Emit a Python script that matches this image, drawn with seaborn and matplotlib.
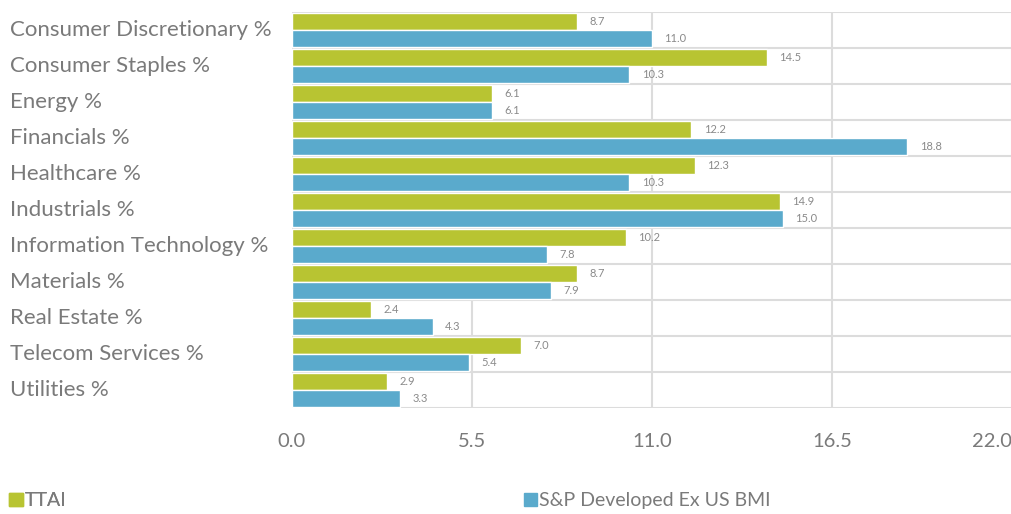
import numpy as np
import pandas as pd
import seaborn as sns
import matplotlib.pyplot as plt
from matplotlib.patches import Patch

SECTORS = ["Consumer Discretionary %", "Consumer Staples %", "Energy %", "Financials %",
           "Healthcare %", "Industrials %", "Information Technology %", "Materials %",
           "Real Estate %", "Telecom Services %", "Utilities %"]
TTAI = [8.7, 14.5, 6.1, 12.2, 12.3, 14.9, 10.2, 8.7, 2.4, 7.0, 2.9]
SP_DEV = [11.0, 10.3, 6.1, 18.8, 10.3, 15.0, 7.8, 7.9, 4.3, 5.4, 3.3]
SERIES = ["TTAI", "S&P Developed Ex US BMI"]
X_TICKS = [0.0, 5.5, 11.0, 16.5, 22.0]

GREEN = "#b8c432"
BLUE = "#5aaacc"
GRID = "#dcdcdc"
TEXT = "#7a7a7a"

df = pd.DataFrame({
    "sector": SECTORS * 2,
    "value": TTAI + SP_DEV,
    "series": [SERIES[0]] * len(SECTORS) + [SERIES[1]] * len(SECTORS),
})

sns.set_style("white")
plt.rcParams['font.family'] = ['Lato', 'DejaVu Sans']

fig = plt.figure(figsize=(10.12, 5.14), dpi=100)
ax = fig.add_axes([292 / 1012, 1 - 408 / 514, 1 - 292 / 1012, 396 / 514])

sns.barplot(data=df, y="sector", x="value", hue="series", orient="h",
            palette=[GREEN, BLUE], saturation=1, width=0.92, edgecolor="white",
            linewidth=1, legend=False, ax=ax)

for cont in ax.containers:
    ax.bar_label(cont, fmt="%.1f", padding=9, fontsize=8, color="#8a8a8a")

ax.set_xlim(0, 22)
ax.set_ylim(len(SECTORS) - 0.5, -0.5)
ax.set_xticks(X_TICKS)
ax.set_xticklabels([f"{t:.1f}" for t in X_TICKS])
ax.set_xlabel("")
ax.set_ylabel("")

# boundaries between sectors as minor ticks + grid
ax.set_yticks(np.arange(-0.5, len(SECTORS), 1.0), minor=True)
ax.yaxis.grid(True, which="minor", color=GRID, linewidth=1.5)
ax.xaxis.grid(True, which="major", color=GRID, linewidth=1.5)
ax.tick_params(axis="y", which="minor", length=10, width=1.5, color=GRID)
ax.tick_params(axis="y", which="major", length=0, pad=203, labelsize=16, labelcolor=TEXT)
ax.tick_params(axis="x", which="major", length=10, width=1.5, color=GRID, pad=8,
               labelsize=14.5, labelcolor=TEXT)
for lbl in ax.get_yticklabels():
    lbl.set_ha("left")
    lbl.set_va("center")
ax.get_xticklabels()[-1].set_ha("right")
for s in ax.spines.values():
    s.set_visible(False)

leg1 = fig.legend(handles=[Patch(color=GREEN, label=SERIES[0])], loc="lower left",
                  bbox_to_anchor=(-0.008, -0.025), frameon=False, fontsize=14,
                  handlelength=0.7, handleheight=0.7, handletextpad=0.1, labelcolor=TEXT)
fig.add_artist(leg1)
fig.legend(handles=[Patch(color=BLUE, label=SERIES[1])], loc="lower left",
           bbox_to_anchor=(506 / 1012, -0.025), frameon=False, fontsize=14,
           handlelength=0.7, handleheight=0.7, handletextpad=0.1, labelcolor=TEXT)

fig.savefig("out.png", dpi=100)
